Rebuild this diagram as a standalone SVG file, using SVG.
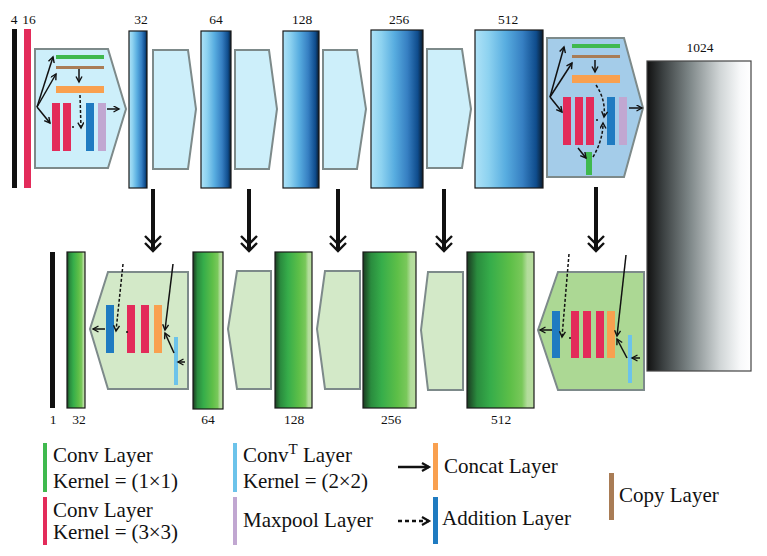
<svg xmlns="http://www.w3.org/2000/svg" width="767" height="556" viewBox="0 0 767 556">
<defs>
<style>
.t{font-family:"Liberation Serif","Times New Roman",serif;fill:#111}
.num{font-size:13.5px;text-anchor:middle}
.lg{font-size:21px}
.blk{stroke:#7d8a8a;stroke-width:2}
.col{stroke:#1a1a1a;stroke-width:1.2}
.ln{stroke:#111;stroke-width:1.5;fill:none}
.dl{stroke:#111;stroke-width:1.5;fill:none;stroke-dasharray:3 2}
.big{stroke:#111;stroke-width:4;fill:none}
.chev{stroke:#111;stroke-width:2.4;fill:none}
.red{fill:#e32b5a}.grn{fill:#3fb94e}.brn{fill:#a97c55}.org{fill:#f9a04f}.blu{fill:#1f7bc1}.pur{fill:#c1a7d1}.lbl{fill:#6cc3ea}
</style>
<linearGradient id="gb" x1="0" x2="1" y1="0" y2="0">
<stop offset="0" stop-color="#aee2f7"/><stop offset="0.2" stop-color="#8dd2f0"/><stop offset="0.45" stop-color="#58ade0"/><stop offset="0.7" stop-color="#367fc2"/><stop offset="0.9" stop-color="#0f4c8c"/><stop offset="1" stop-color="#0a1a2a"/>
</linearGradient>
<linearGradient id="gg" x1="0" x2="1" y1="0" y2="0">
<stop offset="0" stop-color="#1b3a21"/><stop offset="0.15" stop-color="#2a8c3e"/><stop offset="0.35" stop-color="#36ad4a"/><stop offset="0.65" stop-color="#5ebf48"/><stop offset="0.82" stop-color="#79c85a"/><stop offset="0.9" stop-color="#b3dc9c"/><stop offset="1" stop-color="#b9df9f"/>
</linearGradient>
<linearGradient id="gk" x1="0" x2="1" y1="0" y2="0">
<stop offset="0" stop-color="#111"/><stop offset="0.15" stop-color="#3a3f40"/><stop offset="0.4" stop-color="#7b8485"/><stop offset="0.7" stop-color="#d0d5d6"/><stop offset="0.9" stop-color="#f8f9fa"/><stop offset="1" stop-color="#fff"/>
</linearGradient>
<marker id="ah" markerUnits="userSpaceOnUse" markerWidth="9" markerHeight="9" refX="6" refY="3.5" orient="auto">
<path d="M0.5,0.5 L6,3.5 L0.5,6.5" fill="none" stroke="#111" stroke-width="1.4"/>
</marker>
<marker id="ahb" markerUnits="userSpaceOnUse" markerWidth="12" markerHeight="12" refX="8" refY="5" orient="auto">
<path d="M1,1 L8,5 L1,9" fill="none" stroke="#111" stroke-width="2.2"/>
</marker>
</defs>
<rect width="767" height="556" fill="#fff"/>

<!-- Encoder -->
<g id="input">
<rect x="12" y="29" width="5" height="159" fill="#111"/>
<rect x="24" y="29" width="7" height="159" class="red"/>
<text class="t num" x="14" y="24">4</text>
<text class="t num" x="29" y="24">16</text>
</g>
<g id="block1">
<polygon class="blk" points="35,49 108,49 126,109 108,168 35,168" fill="#cdeffa"/>
<rect x="56" y="55" width="48" height="4" class="grn"/>
<rect x="56" y="66" width="48" height="3" class="brn"/>
<rect x="56" y="86" width="48" height="7" class="org"/>
<rect x="52" y="103" width="8" height="48" class="red"/>
<rect x="63" y="103" width="8" height="48" class="red"/>
<rect x="86" y="103" width="8" height="48" class="blu"/>
<rect x="98" y="103" width="8" height="48" class="pur"/>
</g>
<g id="col32"><rect x="129" y="31" width="18" height="157" class="col" fill="url(#gb)"/><text class="t num" x="141" y="24">32</text></g>
<g id="block2"><polygon class="blk" points="153,50 188,50 196,109 188,169 153,169" fill="#cdeffa"/></g>
<g id="col64"><rect x="201" y="31" width="30" height="157" class="col" fill="url(#gb)"/><text class="t num" x="216" y="24">64</text></g>
<g id="block3"><polygon class="blk" points="235,50 269,50 277,109 269,169 235,169" fill="#cdeffa"/></g>
<g id="col128"><rect x="283" y="31" width="36" height="157" class="col" fill="url(#gb)"/><text class="t num" x="302" y="24">128</text></g>
<g id="block4"><polygon class="blk" points="323,50 357,50 366,109 357,169 323,169" fill="#cdeffa"/></g>
<g id="col256"><rect x="371" y="30" width="52" height="158" class="col" fill="url(#gb)"/><text class="t num" x="399" y="24">256</text></g>
<g id="block5"><polygon class="blk" points="427,49 462,49 471,109 462,168 427,168" fill="#cdeffa"/></g>
<g id="col512"><rect x="475" y="30" width="68" height="158" class="col" fill="url(#gb)"/><text class="t num" x="508" y="24">512</text></g>
<g id="block6">
<polygon class="blk" points="547,38 624,38 643,108 624,177 547,177" fill="#a4cce9"/>
<rect x="572" y="44" width="48" height="4" class="grn"/>
<rect x="572" y="55" width="48" height="3" class="brn"/>
<rect x="572" y="75" width="48" height="8" class="org"/>
<rect x="563" y="97" width="8" height="48" class="red"/>
<rect x="575" y="97" width="8" height="48" class="red"/>
<rect x="586" y="97" width="8" height="48" class="red"/>
<rect x="607" y="97" width="8" height="48" class="blu"/>
<rect x="619" y="97" width="8" height="48" class="pur"/>
<rect x="586" y="152" width="6" height="23" class="grn"/>
</g>
<g id="col1024"><rect x="647" y="61" width="104" height="310" stroke="#444" stroke-width="1.2" fill="url(#gk)"/><text class="t num" x="700" y="52">1024</text></g>

<!-- Decoder -->
<g id="output">
<rect x="50" y="252" width="5" height="156" fill="#111"/>
<text class="t num" x="53" y="424">1</text>
</g>
<g id="dcol32"><rect x="67" y="252" width="18" height="156" class="col" fill="url(#gg)"/><text class="t num" x="79" y="424">32</text></g>
<g id="dblock1">
<polygon class="blk" points="90,329 108,272 188,272 188,389 108,389" fill="#d3e9c8"/>
<rect x="106" y="305" width="8" height="48" class="blu"/>
<rect x="127" y="305" width="8" height="48" class="red"/>
<rect x="141" y="305" width="8" height="48" class="red"/>
<rect x="154" y="305" width="8" height="48" class="org"/>
<rect x="174" y="337" width="4" height="48" class="lbl"/>
</g>
<g id="dcol64"><rect x="193" y="252" width="30" height="157" class="col" fill="url(#gg)"/><text class="t num" x="208" y="424">64</text></g>
<g id="dblock2"><polygon class="blk" points="228,329 237,271 271,271 271,389 237,389" fill="#d3e9c8"/></g>
<g id="dcol128"><rect x="275" y="252" width="37" height="156" class="col" fill="url(#gg)"/><text class="t num" x="294" y="424">128</text></g>
<g id="dblock3"><polygon class="blk" points="317,329 325,271 360,271 360,389 325,389" fill="#d3e9c8"/></g>
<g id="dcol256"><rect x="363" y="252" width="53" height="156" class="col" fill="url(#gg)"/><text class="t num" x="391" y="424">256</text></g>
<g id="dblock4"><polygon class="blk" points="421,330 428,272 463,272 463,390 428,390" fill="#d3e9c8"/></g>
<g id="dcol512"><rect x="467" y="252" width="67" height="156" class="col" fill="url(#gg)"/><text class="t num" x="501" y="424">512</text></g>
<g id="dblock5">
<polygon class="blk" points="538,330 558,272 644,272 644,390 558,390" fill="#acd894"/>
<rect x="552" y="311" width="8" height="47" class="blu"/>
<rect x="571" y="311" width="8" height="47" class="red"/>
<rect x="583" y="311" width="8" height="47" class="red"/>
<rect x="596" y="311" width="8" height="47" class="red"/>
<rect x="607" y="311" width="8" height="47" class="org"/>
<rect x="628" y="335" width="4" height="48" class="lbl"/>
</g>

<!-- Connectors -->
<g id="connectors">
<!-- block1 -->
<line class="ln" x1="37" y1="107" x2="53" y2="57" marker-end="url(#ah)"/>
<line class="ln" x1="37" y1="107" x2="56" y2="74" marker-end="url(#ah)"/>
<line class="ln" x1="37" y1="107" x2="50" y2="123" marker-end="url(#ah)"/>
<line class="ln" x1="79" y1="69" x2="79" y2="82" marker-end="url(#ah)"/>
<line class="dl" x1="80" y1="95" x2="81" y2="128" marker-end="url(#ah)"/>
<line class="ln" x1="72" y1="127" x2="74" y2="127"/>
<line class="ln" x1="107" y1="109" x2="119" y2="109" stroke-width="2" marker-end="url(#ah)"/>
<!-- block6 -->
<line class="ln" x1="550" y1="97" x2="564" y2="47" marker-end="url(#ah)"/>
<line class="ln" x1="550" y1="97" x2="572" y2="63" marker-end="url(#ah)"/>
<line class="ln" x1="550" y1="97" x2="562" y2="112" marker-end="url(#ah)"/>
<line class="ln" x1="595" y1="60" x2="595" y2="72" marker-end="url(#ah)"/>
<path class="dl" d="M596,85 Q606,100 604,117" marker-end="url(#ah)"/>
<path class="dl" d="M593,157 Q603,140 603,123" marker-end="url(#ah)"/>
<line class="ln" x1="596" y1="120" x2="598" y2="120"/>
<line class="ln" x1="578" y1="148" x2="586" y2="158" marker-end="url(#ah)"/>
<line class="ln" x1="629" y1="108" x2="642" y2="108" stroke-width="2" marker-end="url(#ah)"/>
<!-- dblock1 -->
<line class="ln" x1="105" y1="329" x2="93" y2="329" marker-end="url(#ah)"/>
<line class="dl" x1="123" y1="264" x2="116" y2="331" marker-end="url(#ah)"/>
<line class="ln" x1="126" y1="332" x2="128" y2="332"/>
<line class="ln" x1="173" y1="264" x2="165" y2="330" marker-end="url(#ah)"/>
<line class="ln" x1="174" y1="353" x2="165" y2="333" marker-end="url(#ah)"/>
<line class="ln" x1="185" y1="362" x2="178" y2="362" marker-end="url(#ah)"/>
<!-- dblock5 -->
<line class="ln" x1="552" y1="330" x2="540" y2="330" marker-end="url(#ah)"/>
<line class="dl" x1="569" y1="254" x2="562" y2="337" marker-end="url(#ah)"/>
<line class="ln" x1="569" y1="338" x2="571" y2="338"/>
<line class="ln" x1="626" y1="255" x2="617" y2="336" marker-end="url(#ah)"/>
<line class="ln" x1="627" y1="358" x2="617" y2="339" marker-end="url(#ah)"/>
<line class="ln" x1="640" y1="358" x2="632" y2="358" marker-end="url(#ah)"/>
<!-- skip connections -->
<g>
<line class="big" x1="153" y1="189" x2="153" y2="250"/>
<polyline class="chev" points="145,236 153,244 161,236"/><polyline class="chev" points="145,243 153,251 161,243"/>
<line class="big" x1="249" y1="189" x2="249" y2="250"/>
<polyline class="chev" points="241,236 249,244 257,236"/><polyline class="chev" points="241,243 249,251 257,243"/>
<line class="big" x1="338" y1="189" x2="338" y2="250"/>
<polyline class="chev" points="330,236 338,244 346,236"/><polyline class="chev" points="330,243 338,251 346,243"/>
<line class="big" x1="444" y1="189" x2="444" y2="250"/>
<polyline class="chev" points="436,236 444,244 452,236"/><polyline class="chev" points="436,243 444,251 452,243"/>
<line class="big" x1="596" y1="187" x2="596" y2="250"/>
<polyline class="chev" points="588,236 596,244 604,236"/><polyline class="chev" points="588,243 596,251 604,243"/>
</g>
</g>

<!-- Legend -->
<g id="legend">
<rect x="43" y="443" width="4" height="49" class="grn"/>
<text class="t lg" x="53" y="462">Conv Layer</text>
<text class="t lg" x="53" y="488" textLength="125" lengthAdjust="spacing">Kernel = (1×1)</text>
<rect x="43" y="497" width="4" height="48" class="red"/>
<text class="t lg" x="53" y="517">Conv Layer</text>
<text class="t lg" x="53" y="539" textLength="125" lengthAdjust="spacing">Kernel = (3×3)</text>
<rect x="233" y="443" width="4" height="49" class="lbl"/>
<text class="t lg" x="243" y="462">Conv<tspan font-size="15" dy="-8">T</tspan><tspan dy="8"> Layer</tspan></text>
<text class="t lg" x="243" y="488" textLength="125" lengthAdjust="spacing">Kernel = (2×2)</text>
<rect x="233" y="497" width="4" height="48" class="pur"/>
<text class="t lg" x="243" y="527">Maxpool Layer</text>
<line x1="398" y1="467" x2="429" y2="467" stroke="#111" stroke-width="2.5" marker-end="url(#ahb)"/>
<rect x="433" y="443" width="5" height="47" class="org"/>
<text class="t lg" x="444" y="473">Concat Layer</text>
<line x1="398" y1="521" x2="429" y2="521" stroke="#111" stroke-width="2.5" stroke-dasharray="4 3" marker-end="url(#ahb)"/>
<rect x="433" y="497" width="5" height="47" class="blu"/>
<text class="t lg" x="442" y="525">Addition Layer</text>
<rect x="609" y="473" width="5" height="47" class="brn"/>
<text class="t lg" x="619" y="502">Copy Layer</text>
</g>
</svg>
